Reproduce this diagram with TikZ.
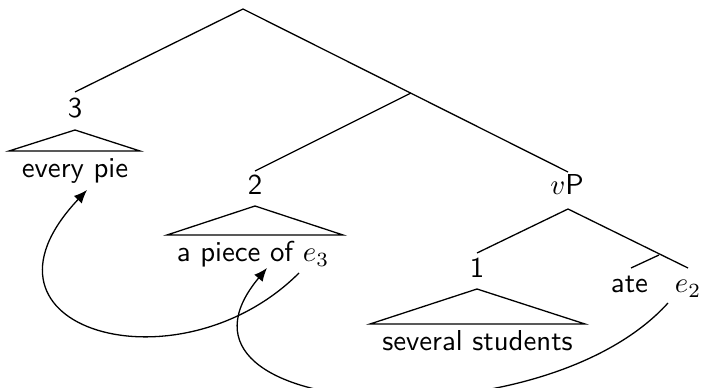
\documentclass[tikz,border=0pt]{standalone}
\usetikzlibrary{arrows.meta}
\begin{document}
\begin{tikzpicture}[x=0.347pt,y=-0.347pt,font=\sffamily,
  lbl/.style={anchor=base,inner sep=0pt},
  edge/.style={line width=0.45pt},
  mv/.style={line width=0.45pt,-{Latex[length=4.6pt,width=3.8pt]}}]
\useasboundingbox (0,0) rectangle (703,388);
% branch points
\coordinate (root) at (243,9);
\coordinate (top3) at (75,92);
\coordinate (mid) at (411,93);
\coordinate (top2) at (255,171);
\coordinate (topvP) at (568,172);
\coordinate (botvP) at (568,209);
\coordinate (top1) at (477,253);
\coordinate (vmid) at (659,255);
\coordinate (tope2) at (688,268);
\coordinate (topate) at (631,268);
% labels
\node[lbl] (three) at (75,118) {3};
\node[lbl] (everypie) at (75,178) {every pie};
\node[lbl] (two) at (255,195) {2};
\node[lbl] (piece) at (253,262) {a piece of $e_3$};
\node[lbl] (vP) at (567,195) {$v$P};
\node[lbl] (one) at (477,278) {1};
\node[lbl] (several) at (477.5,351) {several students};
\node[lbl] (ate) at (629.5,293) {ate};
\node[lbl] (e2) at (688,293) {$e_2$};
% tree edges
\draw[edge] (top3) -- (root) -- (topvP);
\draw[edge] (mid) -- (top2);
\draw[edge] (top1) -- (botvP) -- (tope2);
\draw[edge] (vmid) -- (topate);
% triangles
\coordinate (a3) at (75,130); \coordinate (l3) at (9,151); \coordinate (r3) at (140,151);
\coordinate (a2) at (255,206); \coordinate (l2) at (167,235); \coordinate (r2) at (343,235);
\coordinate (a1) at (477,289); \coordinate (l1) at (370,324); \coordinate (r1) at (585,324);
\draw[edge] (a3) -- (l3) -- (r3) -- cycle;
\draw[edge] (a2) -- (l2) -- (r2) -- cycle;
\draw[edge] (a1) -- (l1) -- (r1) -- cycle;
% movement arrows
\coordinate (s1) at (299,273); \coordinate (t1) at (87,190);
\coordinate (s2) at (668,303); \coordinate (t2) at (267,268);
\draw[mv] (s1) .. controls (179,393) and (-45,330) .. (t1);
\draw[mv] (s2) .. controls (540,445) and (140,420) .. (t2);
\end{tikzpicture}
\end{document}
